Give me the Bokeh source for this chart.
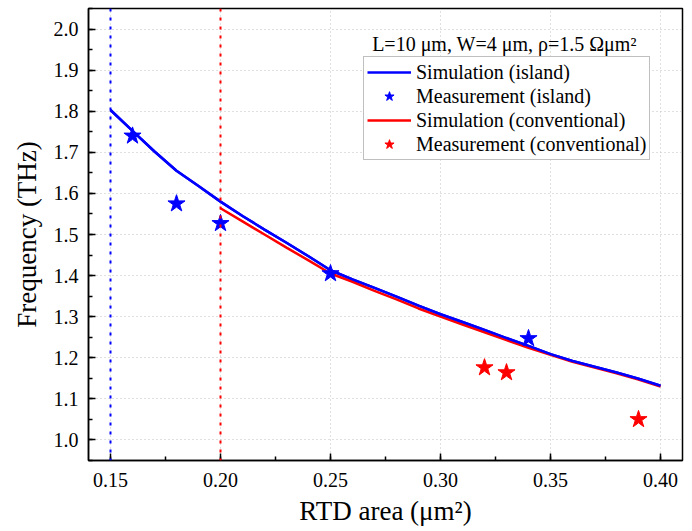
from bokeh.plotting import figure
from bokeh.models import (Span, Label, Legend, LegendItem,
                          SingleIntervalTicker, PrintfTickFormatter)
from bokeh.embed import file_html
from bokeh.resources import INLINE

# ---- data ----
sim_island_x = [0.15, 0.16, 0.17, 0.18, 0.19, 0.20, 0.21, 0.22, 0.23, 0.24, 0.25,
                0.26, 0.27, 0.28, 0.29, 0.30, 0.31, 0.32, 0.33, 0.34, 0.35,
                0.36, 0.37, 0.38, 0.39, 0.40]
sim_island_y = [1.803, 1.752, 1.702, 1.655, 1.618, 1.580, 1.545, 1.512, 1.480, 1.447, 1.413,
                1.391, 1.370, 1.349, 1.327, 1.306, 1.287, 1.268, 1.248, 1.229, 1.209,
                1.192, 1.178, 1.164, 1.149, 1.132]
sim_conv_x = [0.20, 0.21, 0.22, 0.23, 0.24, 0.25, 0.26, 0.27, 0.28, 0.29, 0.30,
              0.31, 0.32, 0.33, 0.34, 0.35, 0.36, 0.37, 0.38, 0.39, 0.40]
sim_conv_y = [1.564, 1.532, 1.500, 1.468, 1.437, 1.405, 1.385, 1.363, 1.342, 1.320, 1.300,
              1.281, 1.262, 1.243, 1.224, 1.207, 1.190, 1.176, 1.162, 1.147, 1.130]
meas_island_x = [0.16, 0.18, 0.20, 0.25, 0.34]
meas_island_y = [1.740, 1.575, 1.527, 1.405, 1.247]
meas_conv_x = [0.32, 0.33, 0.39]
meas_conv_y = [1.176, 1.164, 1.050]
min_area_island = 0.15
min_area_conv = 0.20

x_tick_step = 0.05
y_tick_step = 0.1

FONT = "'Liberation Serif', 'Times New Roman', serif"
BLUE = "#0000ff"
RED = "#ff0000"

p = figure(width=684, height=531, x_range=(0.14, 0.41), y_range=(0.95, 2.05),
           output_backend="svg", toolbar_location=None,
           min_border_left=88, min_border_right=2, min_border_top=8, min_border_bottom=71)
p.background_fill_color = "white"
p.border_fill_color = "white"
p.outline_line_color = "black"
p.outline_line_width = 1.5

# grid
for g in (p.xgrid, p.ygrid):
    g.grid_line_color = "#c0c0c0"
    g.grid_line_dash = "1 3"
    g.grid_line_width = 1

p.xaxis.ticker = SingleIntervalTicker(interval=x_tick_step, num_minor_ticks=2)
p.yaxis.ticker = SingleIntervalTicker(interval=y_tick_step, num_minor_ticks=2)
p.xgrid.ticker = p.xaxis.ticker
p.ygrid.ticker = p.yaxis.ticker
p.xaxis.formatter = PrintfTickFormatter(format="%.2f")
p.yaxis.formatter = PrintfTickFormatter(format="%.1f")

for ax in (p.xaxis, p.yaxis):
    ax.axis_line_color = "black"
    ax.axis_line_width = 1.5
    ax.major_tick_line_width = 1.5
    ax.minor_tick_line_width = 1.5
    ax.major_tick_in = 7
    ax.major_tick_out = 0
    ax.minor_tick_in = 4
    ax.minor_tick_out = 0
    ax.major_label_text_font = FONT
    ax.major_label_text_font_size = "20px"
    ax.major_label_text_color = "black"
    ax.axis_label_text_font = FONT
    ax.axis_label_text_font_size = "27px"
    ax.axis_label_text_font_style = "normal"
    ax.axis_label_text_color = "black"

p.xaxis.major_label_standoff = 12
p.yaxis.major_label_standoff = 10
p.xaxis.axis_label = "RTD area (\u03bcm\u00b2)"
p.yaxis.axis_label = "Frequency (THz)"
p.xaxis.axis_label_standoff = 6
p.yaxis.axis_label_standoff = 9

# vertical dotted reference lines
p.add_layout(Span(location=min_area_island, dimension="height", line_color=BLUE,
                  line_dash="3 6", line_width=2))
p.add_layout(Span(location=min_area_conv, dimension="height", line_color=RED,
                  line_dash="3 6", line_width=2))

r1 = p.line(sim_island_x, sim_island_y, line_color=BLUE, line_width=2.5)
r3 = p.line(sim_conv_x, sim_conv_y, line_color=RED, line_width=2.5)
# draw blue above red
p.line(sim_island_x, sim_island_y, line_color=BLUE, line_width=2.5)
r2 = p.scatter(meas_island_x, meas_island_y, marker="star", size=18,
               fill_color=BLUE, line_color=BLUE)
r4 = p.scatter(meas_conv_x, meas_conv_y, marker="star", size=18,
               fill_color=RED, line_color=RED)

legend = Legend(items=[
    LegendItem(label="Simulation (island)", renderers=[r1]),
    LegendItem(label="Measurement (island)", renderers=[r2]),
    LegendItem(label="Simulation (conventional)", renderers=[r3]),
    LegendItem(label="Measurement (conventional)", renderers=[r4]),
], location=(275, 300))
legend.label_text_font = FONT
legend.label_text_font_size = "20px"
legend.label_text_color = "black"
legend.glyph_width = 44
legend.glyph_height = 24
legend.label_height = 24
legend.label_standoff = 5
legend.spacing = 0
legend.padding = 3
legend.margin = 0
legend.border_line_color = "#808080"
legend.border_line_width = 1.5
legend.background_fill_alpha = 1
p.add_layout(legend, "center")

p.add_layout(Label(x=0.3302, y=1.9635, text="L=10 \u03bcm, W=4 \u03bcm, \u03c1=1.5  \u03a9\u03bcm\u00b2",
                   text_font=FONT, text_font_size="20px", text_align="center",
                   text_baseline="middle", text_color="black"))

open("out.html", "w").write(file_html(p, INLINE))
